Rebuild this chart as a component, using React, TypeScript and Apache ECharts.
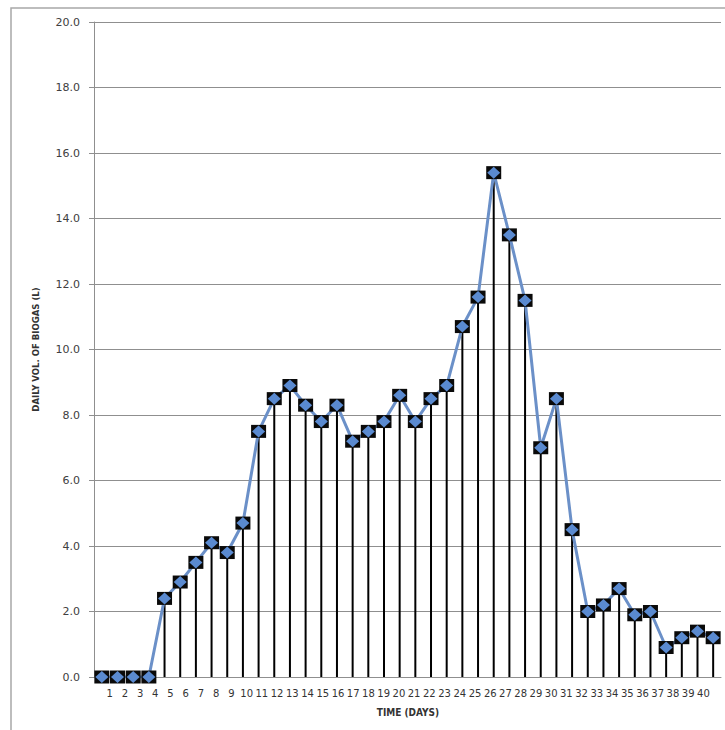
import React, { useEffect, useRef } from "react";
import * as echarts from "echarts";

const days: string[] = Array.from({ length: 40 }, (_, i) => String(i + 1));
const biogas: number[] = [
  0, 0, 0, 0, 2.4, 2.9, 3.5, 4.1, 3.8, 4.7,
  7.5, 8.5, 8.9, 8.3, 7.8, 8.3, 7.2, 7.5, 7.8, 8.6,
  7.8, 8.5, 8.9, 10.7, 11.6, 15.4, 13.5, 11.5, 7.0, 8.5,
  4.5, 2.0, 2.2, 2.7, 1.9, 2.0, 0.9, 1.2, 1.4, 1.2,
];
const yTitle = "DAILY VOL. OF BIOGAS (L)";
const xTitle = "TIME (DAYS)";

export default function App() {
  const ref = useRef<HTMLDivElement>(null);
  useEffect(() => {
    document.body.style.margin = "0";
    if (!ref.current) return;
    const chart = echarts.init(ref.current, undefined, { renderer: "svg" });
    const gray = "#8f8f8f";
    chart.setOption({
      animation: false,
      backgroundColor: "#ffffff",
      graphic: [
        {
          type: "rect",
          shape: { x: 11, y: 8, width: 740, height: 760 },
          style: { fill: "none", stroke: "#a8a8a8", lineWidth: 1.5 },
          silent: true,
          z: -1,
        },
        {
          type: "text",
          x: 408,
          y: 712,
          style: {
            text: xTitle,
            fontFamily: "DejaVu Sans Condensed",
            fontWeight: "bold",
            fontSize: 10,
            fill: "#333",
            align: "center",
            verticalAlign: "middle",
          },
        },
      ],
      grid: [
        { left: 94, right: 4, top: 22, bottom: 53 },
        { left: 102, right: 14, top: 22, bottom: 53 },
      ],
      xAxis: [
        {
          type: "category",
          gridIndex: 0,
          data: days,
          boundaryGap: true,
          axisLine: { show: true, lineStyle: { color: gray, width: 1 } },
          axisTick: { show: false },
          axisLabel: { show: false },
          splitLine: { show: false },
        },
        {
          type: "category",
          gridIndex: 1,
          data: days,
          boundaryGap: true,
          axisLine: { show: false },
          axisTick: { show: false },
          axisLabel: {
            interval: 0,
            margin: 11,
            fontFamily: "DejaVu Sans",
            fontSize: 10,
            color: "#333",
          },
          splitLine: { show: false },
        },
      ],
      yAxis: [
        {
          type: "value",
          gridIndex: 0,
          min: 0,
          max: 20,
          interval: 2,
          name: yTitle,
          nameLocation: "middle",
          nameGap: 54,
          nameTextStyle: {
            fontFamily: "DejaVu Sans Condensed",
            fontWeight: "bold",
            fontSize: 9.5,
            color: "#333",
          },
          axisLine: { show: true, lineStyle: { color: gray, width: 1 } },
          axisTick: { show: true, length: 5, lineStyle: { color: gray } },
          axisLabel: {
            formatter: (v: number) => v.toFixed(1),
            margin: 14,
            fontFamily: "DejaVu Sans",
            fontSize: 11,
            color: "#404040",
          },
          splitLine: { show: true, lineStyle: { color: gray, width: 1 } },
        },
        { type: "value", gridIndex: 1, min: 0, max: 20, show: false },
      ],
      series: [
        {
          type: "bar",
          data: biogas,
          barWidth: 2,
          itemStyle: { color: "#000" },
          silent: true,
          z: 2,
        },
        {
          type: "line",
          data: biogas,
          lineStyle: { color: "#6b90c8", width: 3 },
          showSymbol: false,
          z: 3,
        },
        {
          type: "scatter",
          data: biogas,
          symbol: "rect",
          symbolSize: [15, 13],
          itemStyle: { color: "#0a0a0a", opacity: 1 },
          z: 4,
        },
        {
          type: "scatter",
          data: biogas,
          symbol: "diamond",
          symbolSize: [13, 12],
          itemStyle: { color: "#5a8ad0", opacity: 1 },
          z: 5,
        },
      ],
    });
    return () => chart.dispose();
  }, []);
  return <div ref={ref} style={{ width: 725, height: 730 }} />;
}
